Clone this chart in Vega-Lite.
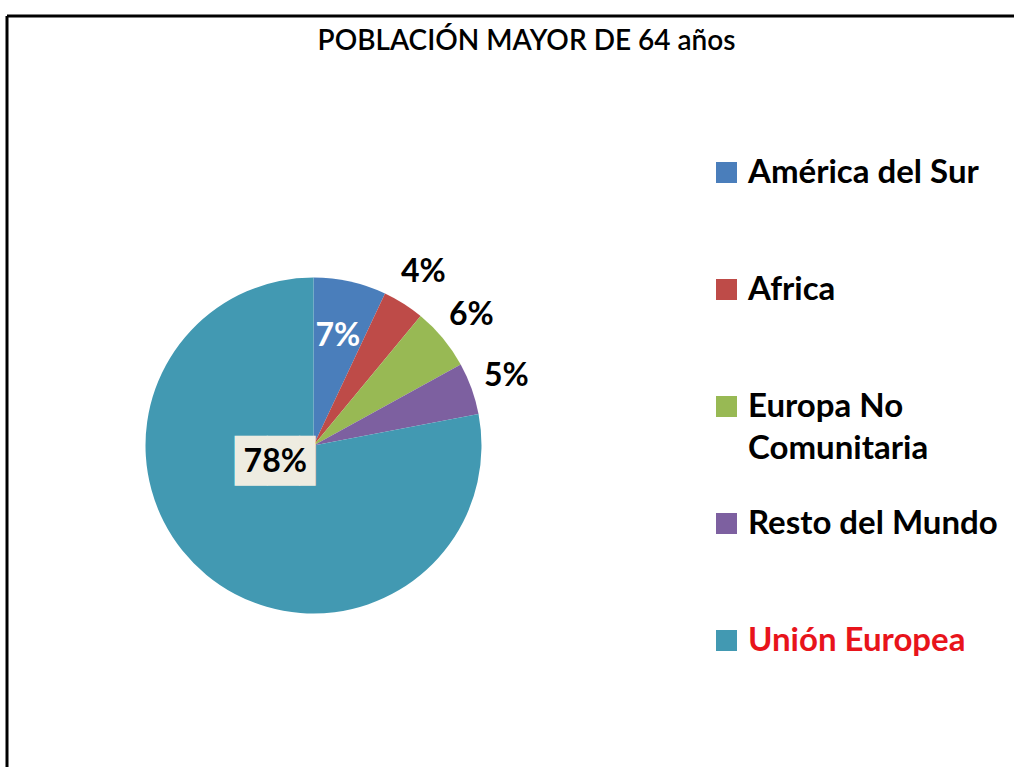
{
  "$schema": "https://vega.github.io/schema/vega-lite/v6.json",
  "width": 1007,
  "height": 751,
  "autosize": {"type": "none"},
  "padding": {"left": 7, "top": 16, "right": 0, "bottom": 0},
  "background": "white",
  "view": {"stroke": "black", "strokeWidth": 3, "strokeDash": [1007, 1758, 751, 0]},
  "title": {"text": "POBLACIÓN MAYOR DE 64 años", "font": "Lato", "fontSize": 28, "fontWeight": 600, "color": "black", "anchor": "middle", "offset": -62, "dx": 16, "baseline": "alphabetic"},
  "data": {"values": [
    {"region": "América del Sur", "pct": 7, "ord": 1, "label": "7%"},
    {"region": "Africa", "pct": 4, "ord": 2, "label": "4%"},
    {"region": "Europa No Comunitaria", "pct": 6, "ord": 3, "label": "6%"},
    {"region": "Resto del Mundo", "pct": 5, "ord": 4, "label": "5%"},
    {"region": "Unión Europea", "pct": 78, "ord": 5, "label": "78%"}
  ]},
  "encoding": {
    "theta": {"field": "pct", "type": "quantitative", "stack": true},
    "order": {"field": "ord", "type": "quantitative"}
  },
  "layer": [
    {
      "mark": {"type": "arc", "outerRadius": 168, "xOffset": -197, "yOffset": 54},
      "encoding": {
        "color": {"field": "region", "type": "nominal",
          "scale": {"domain": ["América del Sur", "Africa", "Europa No Comunitaria", "Resto del Mundo", "Unión Europea"],
                    "range": ["#4A7EBB", "#BE4B48", "#98B954", "#7D60A0", "#4299B2"]},
          "legend": {"title": null, "orient": "none", "legendX": 703, "legendY": 140,
            "symbolType": "square", "symbolSize": 441, "symbolStrokeWidth": 0,
            "labelFont": "Lato", "labelFontSize": 33, "labelFontWeight": "bold", "labelColor": "black",
            "labelOffset": 5, "labelLimit": 400, "rowPadding": 41, "padding": 0, "gridAlign": "all",
            "labelExpr": "datum.label == 'Europa No Comunitaria' ? ['Europa No', 'Comunitaria'] : datum.label",
            "encode": {"labels": {"update": {"fill": {"signal": "datum.label == 'Unión Europea' ? '#E8141B' : 'black'"}, "lineHeight": {"value": 42}}}}
          }
        }
      }
    },
    {
      "mark": {"type": "text", "radius": 112, "xOffset": -197, "yOffset": 54, "font": "Lato", "fontSize": 32, "fontWeight": "bold", "color": "white"},
      "encoding": {"text": {"condition": {"test": "datum.region === 'América del Sur'", "field": "label"}, "value": ""}}
    },
    {
      "mark": {"type": "text", "radius": 205, "xOffset": -197, "yOffset": 54, "font": "Lato", "fontSize": 32, "fontWeight": "bold", "color": "black"},
      "encoding": {"text": {"condition": {"test": "datum.region !== 'América del Sur' && datum.region !== 'Unión Europea'", "field": "label"}, "value": ""}}
    },
    {
      "mark": {"type": "text", "radius": 60, "xOffset": -197, "yOffset": 54, "dy": -30, "dx": 8, "font": "DejaVu Sans", "fontSize": 42, "color": "#EEECE1"},
      "encoding": {"text": {"condition": {"test": "datum.region === 'Unión Europea'", "value": "██▌"}, "value": ""}}
    },
    {
      "mark": {"type": "text", "radius": 60, "xOffset": -197, "yOffset": 54, "dy": -30, "font": "Lato", "fontSize": 32, "fontWeight": "bold", "color": "black"},
      "encoding": {"text": {"condition": {"test": "datum.region === 'Unión Europea'", "field": "label"}, "value": ""}}
    }
  ]
}
